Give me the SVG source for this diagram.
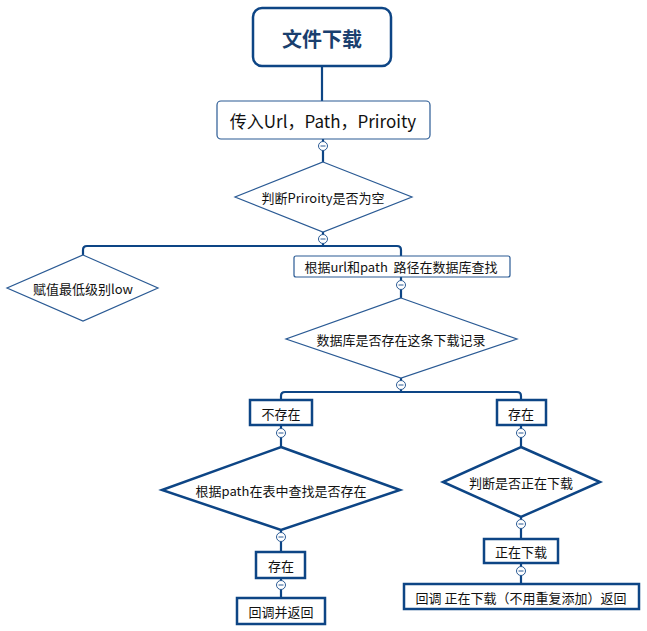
<svg xmlns="http://www.w3.org/2000/svg" width="647" height="631" viewBox="0 0 647 631">
<style>
text{font-family:"Noto Sans CJK SC","Liberation Sans",sans-serif;fill:#111;text-anchor:middle;dominant-baseline:central;font-size:13px}
.thin{fill:#fff;stroke:#2a5a94;stroke-width:1.2}
.thick{fill:#fff;stroke:#0d4585;stroke-width:2.5}
.ln{fill:none;stroke:#0d4585;stroke-width:2.2}
.c{fill:#fff;stroke:#2a5a94;stroke-width:1}
</style>
<g id="connectors">
<path class="ln" d="M322 66V101M323 139V162M323 232V246M83 255V250Q83 246 87 246H397Q401 246 401 250V256M401 277V298M401 378V392M281 400V396Q281 392 285 392H517Q521 392 521 396V400M281 425V447M521 425V447M281 530V552M521 517V539M281 578V598M521 563V584"/>
<g id="minus">
<circle class="c" cx="323" cy="146" r="4.5"/><circle class="c" cx="323" cy="239" r="4.5"/><circle class="c" cx="401" cy="285" r="4.5"/><circle class="c" cx="401" cy="385" r="4.5"/><circle class="c" cx="281" cy="433" r="4.5"/><circle class="c" cx="521" cy="433" r="4.5"/><circle class="c" cx="281" cy="537" r="4.5"/><circle class="c" cx="521" cy="524" r="4.5"/><circle class="c" cx="281" cy="585" r="4.5"/><circle class="c" cx="521" cy="571" r="4.5"/>
<path stroke="#2a5a94" stroke-width="1" d="M320.5 146h5M320.5 239h5M398.5 285h5M398.5 385h5M278.5 433h5M518.5 433h5M278.5 537h5M518.5 524h5M278.5 585h5M518.5 571h5"/>
</g>
</g>
<g id="title"><rect x="253" y="8" width="138" height="58" rx="9" class="thick"/><text x="322" y="38" style="font-size:20px;font-weight:bold;fill:#1a3f6e">文件下载</text></g>
<g id="input"><rect x="217" y="101" width="213" height="38" rx="4" class="thin"/><text x="323" y="120" style="font-size:17px">传入Url，Path，Priroity</text></g>
<g id="d1"><polygon points="323,162 412,197 323,232 235,197" class="thin"/><text x="323" y="197">判断Priroity是否为空</text></g>
<g id="d2"><polygon points="83,255 158,288 83,321 7,288" class="thin"/><text x="83" y="288">赋值最低级别low</text></g>
<g id="b1"><rect x="294" y="256" width="216" height="21" rx="2" class="thin"/><text x="401" y="266" xml:space="preserve">根据url和path  路径在数据库查找</text></g>
<g id="d3"><polygon points="401,298 517,339 401,378 286,339" class="thin"/><text x="401" y="339">数据库是否存在这条下载记录</text></g>
<g id="b2"><rect x="250" y="400" width="62" height="25" class="thick"/><text x="281" y="413">不存在</text></g>
<g id="b3"><rect x="497" y="400" width="49" height="25" class="thick"/><text x="521" y="413">存在</text></g>
<g id="d4"><polygon points="281,447 400,490 281,530 162,490" class="thick"/><text x="281" y="490">根据path在表中查找是否存在</text></g>
<g id="d5"><polygon points="521,447 600,482 521,517 443,482" class="thick"/><text x="521" y="482">判断是否正在下载</text></g>
<g id="b4"><rect x="256" y="552" width="49" height="26" class="thick"/><text x="281" y="565">存在</text></g>
<g id="b5"><rect x="484" y="539" width="74" height="24" class="thick"/><text x="521" y="551">正在下载</text></g>
<g id="b6"><rect x="237" y="598" width="88" height="26" class="thick"/><text x="281" y="611">回调并返回</text></g>
<g id="b7"><rect x="404" y="584" width="235" height="25" class="thick"/><text x="521" y="597" xml:space="preserve">回调 正在下载（不用重复添加）返回</text></g>
</svg>
